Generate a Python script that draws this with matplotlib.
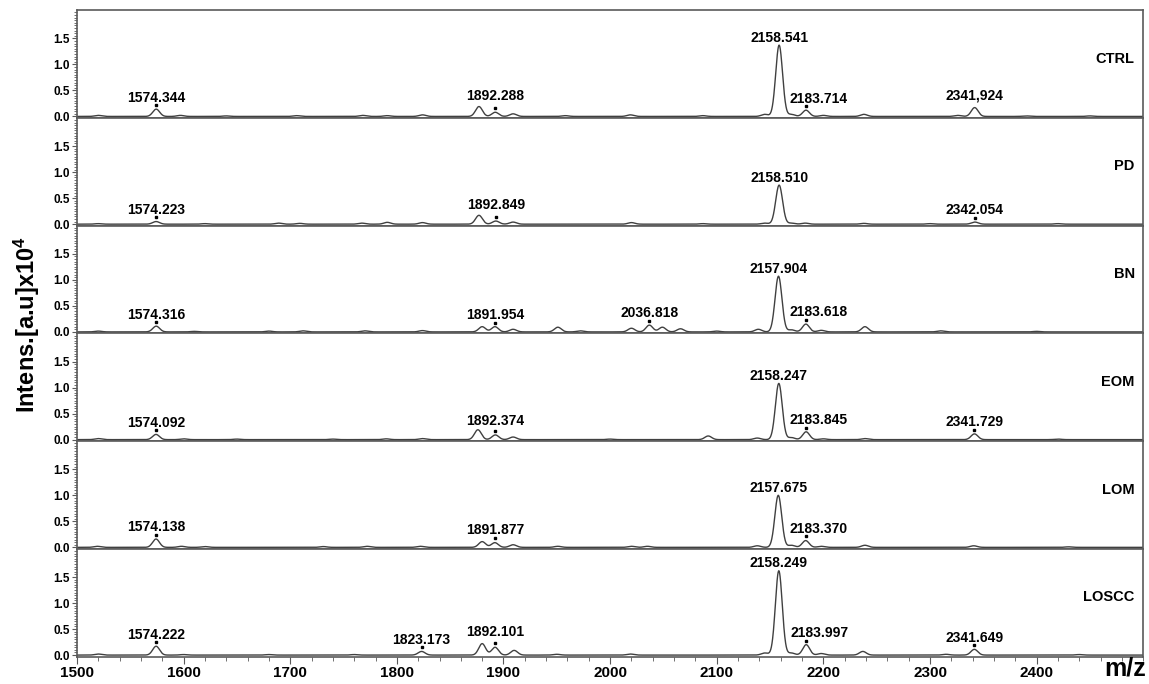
import numpy as np
import matplotlib
matplotlib.use("Agg")
import matplotlib.pyplot as plt
from matplotlib.ticker import MultipleLocator, FixedLocator, FormatStrFormatter
from matplotlib.transforms import offset_copy

plt.rcParams['font.family'] = ['Liberation Sans', 'DejaVu Sans']
plt.rcParams['font.weight'] = 'bold'
plt.rcParams['mathtext.fontset'] = 'custom'
plt.rcParams['mathtext.rm'] = 'Liberation Sans:bold'
plt.rcParams['mathtext.it'] = 'Liberation Sans:bold'
plt.rcParams['mathtext.bf'] = 'Liberation Sans:bold'

# ---------------- data (peak lists) ----------------
samples = ["CTRL", "PD", "BN", "EOM", "LOM", "LOSCC"]

ctrl_mz = [1520, 1574.3, 1597, 1640, 1706, 1768, 1791, 1824, 1877, 1892.3, 1909, 1958,
           2019, 2087, 2145, 2158.5, 2170, 2183.7, 2200, 2238, 2326, 2341.9, 2390, 2450]
ctrl_int = [0.02, 0.14, 0.02, 0.01, 0.015, 0.02, 0.015, 0.03, 0.19, 0.08, 0.05, 0.015,
            0.03, 0.015, 0.04, 1.37, 0.04, 0.12, 0.02, 0.04, 0.02, 0.17, 0.01, 0.01]
ctrl_labels = ["1574.344", "1892.288", "2158.541", "2183.714", "2341,924"]

pd_mz = [1520, 1574.2, 1620, 1689, 1709, 1767, 1791, 1824, 1877, 1892.8, 1909, 2020,
         2087, 2145, 2158.5, 2170, 2183, 2238, 2300, 2342.1, 2420]
pd_int = [0.01, 0.05, 0.01, 0.02, 0.015, 0.02, 0.035, 0.03, 0.17, 0.06, 0.04, 0.03,
          0.01, 0.02, 0.75, 0.02, 0.02, 0.015, 0.01, 0.04, 0.01]
pd_labels = ["1574.223", "1892.849", "2158.510", "2342.054"]

bn_mz = [1520, 1574.3, 1610, 1680, 1712, 1770, 1824, 1880, 1892, 1909, 1951, 1972,
         2020, 2036.8, 2049, 2066, 2100, 2139, 2157.9, 2170, 2183.6, 2198, 2239, 2310, 2400]
bn_int = [0.015, 0.11, 0.01, 0.015, 0.02, 0.02, 0.025, 0.1, 0.1, 0.05, 0.09, 0.02,
          0.07, 0.13, 0.09, 0.06, 0.015, 0.05, 1.07, 0.04, 0.15, 0.03, 0.1, 0.02, 0.01]
bn_labels = ["1574.316", "1891.954", "2036.818", "2157.904", "2183.618"]

eom_mz = [1520, 1574.1, 1600, 1650, 1740, 1790, 1824, 1876, 1892.4, 1909, 2000, 2092,
          2138, 2158.2, 2170, 2183.8, 2200, 2239, 2341.7, 2420]
eom_int = [0.02, 0.1, 0.015, 0.01, 0.01, 0.015, 0.02, 0.19, 0.09, 0.05, 0.01, 0.07,
           0.03, 1.08, 0.04, 0.15, 0.015, 0.02, 0.11, 0.01]
eom_labels = ["1574.092", "1892.374", "2158.247", "2183.845", "2341.729"]

lom_mz = [1519, 1574.1, 1598, 1620, 1731, 1772, 1822, 1880, 1891.9, 1909, 1951, 2020,
          2035, 2138, 2157.7, 2170, 2183.4, 2198, 2239, 2341, 2430]
lom_int = [0.02, 0.16, 0.02, 0.015, 0.015, 0.02, 0.02, 0.11, 0.09, 0.05, 0.02, 0.02,
           0.02, 0.03, 1.0, 0.04, 0.13, 0.02, 0.04, 0.03, 0.01]
lom_labels = ["1574.138", "1891.877", "2157.675", "2183.370"]

loscc_mz = [1520, 1574.2, 1600, 1680, 1760, 1823.2, 1880, 1892.1, 1910, 1950, 2019,
            2145, 2158.2, 2170, 2183.9, 2198, 2237, 2315, 2341.6, 2440]
loscc_int = [0.02, 0.17, 0.01, 0.01, 0.01, 0.07, 0.22, 0.15, 0.09, 0.015, 0.02,
             0.04, 1.62, 0.04, 0.2, 0.03, 0.07, 0.015, 0.11, 0.01]
loscc_labels = ["1574.222", "1823.173", "1892.101", "2158.249", "2183.997", "2341.649"]

all_mz = [ctrl_mz, pd_mz, bn_mz, eom_mz, lom_mz, loscc_mz]
all_int = [ctrl_int, pd_int, bn_int, eom_int, lom_int, loscc_int]
all_labels = [ctrl_labels, pd_labels, bn_labels, eom_labels, lom_labels, loscc_labels]

x_ticks = [1500, 1600, 1700, 1800, 1900, 2000, 2100, 2200, 2300, 2400]
y_ticks = [0.0, 0.5, 1.0, 1.5]

# ---------------- drawing ----------------
PEAK_SIGMA = 3.2
grid = np.linspace(1500, 2500, 5001)


def spectrum(mzs, ints):
    y = np.zeros_like(grid)
    for m, h in zip(mzs, ints):
        y += h * np.exp(-0.5 * ((grid - m) / PEAK_SIGMA) ** 2)
    return y


fig = plt.figure(figsize=(11.49, 6.84), dpi=100)
axes = fig.subplots(6, 1, sharex=True, gridspec_kw=dict(hspace=0))
fig.subplots_adjust(left=0.067, right=0.995, top=0.985, bottom=0.04)

line_col = '#404040'
spine_col = '#5a5a5a'

for i, ax in enumerate(axes):
    y = spectrum(all_mz[i], all_int[i])
    ax.plot(grid, y, color=line_col, lw=1.0)
    ax.set_xlim(1500, 2500)
    ax.set_ylim(-0.03, 2.04)
    ax.yaxis.set_major_locator(FixedLocator(y_ticks))
    ax.yaxis.set_minor_locator(MultipleLocator(0.05))
    ax.yaxis.set_major_formatter(FormatStrFormatter('%.1f'))
    ax.tick_params(axis='y', which='major', direction='out', length=3.5, width=0.8,
                   labelsize=8.5, pad=1.5, color=spine_col)
    ax.tick_params(axis='y', which='minor', direction='out', length=2, width=0.6,
                   color=spine_col)
    for sp in ax.spines.values():
        sp.set_color(spine_col)
        sp.set_linewidth(1.2)

    ax.text(0.992, 0.55, samples[i], transform=ax.transAxes, ha='right', va='center',
            fontsize=10.5, fontweight='bold')

    for lab in all_labels[i]:
        m = float(lab.replace(',', '.'))
        main = 2150 < m < 2165
        dx = 12 if 2170 < m < 2200 else 0
        win = (grid > m - 14) & (grid < m + 14)
        top = y[win].max()
        peak_val = np.interp(m, grid, y)
        if main:
            tr = offset_copy(ax.transData, fig=fig, y=2.5, units='points')
            ax.text(m, top, lab, transform=tr, ha='center', va='baseline',
                    fontsize=10, fontweight='bold')
        else:
            tr = offset_copy(ax.transData, fig=fig, y=5.5, units='points')
            ax.text(m + dx, top, lab, transform=tr, ha='center', va='baseline',
                    fontsize=10, fontweight='bold')
            if ',' not in lab:
                trd = offset_copy(ax.transData, fig=fig, y=3, units='points')
                ax.plot([m], [peak_val], marker='s', ms=2.0, color='black',
                        lw=0, transform=trd)

    if i < len(axes) - 1:
        ax.tick_params(axis='x', which='both', bottom=False, labelbottom=False)
    else:
        ax.xaxis.set_major_locator(FixedLocator(x_ticks))
        ax.xaxis.set_minor_locator(MultipleLocator(20))
        ax.tick_params(axis='x', which='major', direction='out', length=5, width=0.8,
                       labelsize=11, pad=2, color=spine_col)
        ax.tick_params(axis='x', which='minor', direction='out', length=3, width=0.6,
                       color=spine_col)

fig.text(1146 / 1149, 1 - 668 / 684, "m/z", ha='right', va='center', fontsize=18,
         fontweight='bold')
fig.text(27 / 1149, 1 - 325 / 684, r"Intens.[a.u]x10$^{4}$", rotation=90,
         ha='center', va='center', fontsize=17, fontweight='bold')

fig.savefig("out.png", dpi=100)
